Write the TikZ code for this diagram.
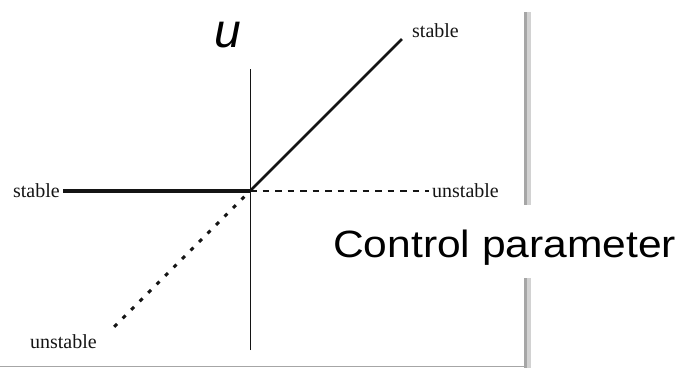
\documentclass[tikz,border=0pt]{standalone}
\usepackage{fontspec}
\setmainfont{Liberation Serif}
\newfontfamily\labelsans{Liberation Sans}
\usepackage{tikz}
\usetikzlibrary{positioning,calc}
\definecolor{bifurcationInk}{HTML}{141414}
\definecolor{frameGrey}{HTML}{A6A6A6}
\definecolor{frameShade}{HTML}{D2D2D2}
\tikzset{
  branchLabel/.style={
    inner sep=3pt,
    text=bifurcationInk,
    font=\fontsize{20}{20}\selectfont
  },
  axisLabel/.style={
    inner sep=0pt,
    text=black,
    font=\labelsans\itshape\fontsize{48}{48}\selectfont
  },
  paramLabel/.style={
    inner sep=0pt,
    xscale=1.12,
    fill=white,
    text height=52pt,
    text depth=21pt,
    text=black,
    font=\labelsans\fontsize{38}{38}\selectfont
  },
  axisLine/.style={
    line width=1pt,
    draw=bifurcationInk
  },
  stableFlat/.style={
    line width=4pt,
    draw=bifurcationInk
  },
  stableRising/.style={
    line width=2.6pt,
    draw=bifurcationInk
  },
  unstableFlat/.style={
    line width=1.8pt,
    draw=bifurcationInk,
    dash pattern=on 6.5pt off 6pt
  },
  unstableFalling/.style={
    line width=3pt,
    draw=bifurcationInk,
    dash pattern=on 4pt off 8pt,
    dash phase=4pt
  },
  frameEdge/.style={
    line width=3pt,
    draw=frameGrey
  },
  frameGlow/.style={
    line width=4pt,
    draw=frameShade
  },
  frameFloor/.style={
    line width=1.4pt,
    draw=frameGrey
  }
}

\begin{document}
\begin{tikzpicture}[x=1pt,y=-1pt,node distance=6pt]
  \useasboundingbox (0,0) rectangle (683,368);
  \coordinate (origin) at (250,191);
  \coordinate (axisTop) at (250,69);
  \coordinate (axisBottom) at (250,350);
  \coordinate (risingEnd) at (402,39);
  \coordinate (fallingEnd) at (111,330);
  \coordinate (frameTop) at (527,12);
  \coordinate (frameBottom) at (527,368);
  \coordinate (floorLeft) at (0,366.5);
  \coordinate (floorRight) at (527,366.5);
  \draw[frameGlow] ($(frameTop)+(2,0)$) -- ($(frameBottom)+(2,0)$);
  \draw[frameEdge] ($(frameTop)+(-1.5,0)$) -- ($(frameBottom)+(-1.5,0)$);
  \draw[frameFloor] (floorLeft) -- (floorRight);
  \node[axisLabel,anchor=base] (uLabel) at (228,47) {u};
  \node[branchLabel,anchor=east] (stableLeft) at (63,191) {stable};
  \node[branchLabel,anchor=west] (unstableRight) at (429,191) {unstable};
  \node[branchLabel,above right=-2pt and 7pt of risingEnd] (stableUp) {stable};
  \node[branchLabel,below left=1pt and 11pt of fallingEnd] (unstableDown) {unstable};
  \node[paramLabel,anchor=base west] (controlLabel) at (333,257) {Control parameter};
  \draw[axisLine] (axisBottom) -- (axisTop);
  \draw[stableFlat] (origin) -- (origin -| stableLeft.east);
  \draw[unstableFlat] (origin) -- (origin -| unstableRight.west);
  \draw[stableRising] (origin) -- (risingEnd);
  \draw[unstableFalling] (origin) -- (fallingEnd);
\end{tikzpicture}
\end{document}
